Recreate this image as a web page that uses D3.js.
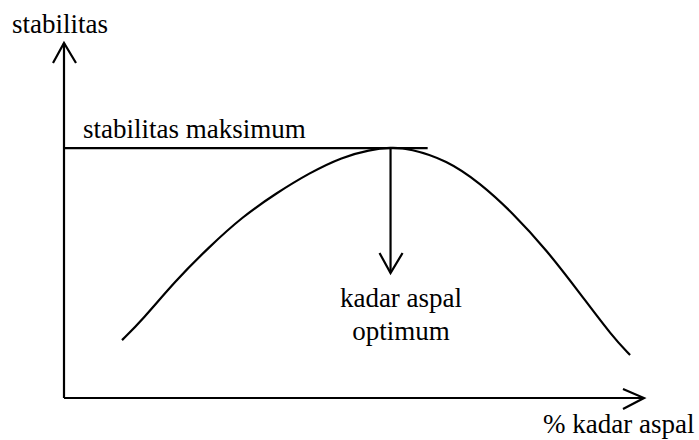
<!DOCTYPE html>
<html>
<head>
    <meta charset="utf-8">
    <title>Kurva stabilitas - kadar aspal</title>
    <style>
        body { margin: 0; background: #fff; }
        svg text {
            font-family: "Times New Roman", "Liberation Serif", Tinos, "DejaVu Serif", serif;
            font-size: 27px;
            fill: #000;
        }
        .line { fill: none; stroke: #000; stroke-width: 2.2; }
    </style>
</head>
<body>
    <div id="chart"></div>

    <script src="https://d3js.org/d3.v7.min.js"></script>
    <script>
        // titik kurva (x = % kadar aspal, y = stabilitas), skala 0..100
        var kadarAspal = [10.0, 13.5, 19.3, 25.0, 30.7, 36.6, 42.3, 48.0, 52.7, 56.3,
                          59.6, 66.0, 71.7, 77.4, 83.2, 88.9, 94.6, 97.6];
        var stabilitas = [16.3, 22.0, 33.2, 42.5, 51.0, 57.7, 63.4, 67.9, 69.9, 70.6,
                          70.3, 67.0, 60.6, 52.1, 41.7, 29.6, 17.2, 12.1];
        var puncak = { x: 56.3, y: 70.4 };     // kadar aspal optimum
        var ujungGarisMaks = 62.7;             // garis stabilitas maksimum berhenti di sini
        var ujungPanah = 35.2;                 // panah turun sampai sini
        var labelSumbuY = "stabilitas";
        var labelSumbuX = "% kadar aspal";
        var labelMaks = "stabilitas maksimum";
        var labelOptimum = ["kadar aspal", "optimum"];

        var width = 699, height = 440;

        var svg = d3.select("#chart").append("svg")
            .attr("width", width)
            .attr("height", height);

        var x = d3.scaleLinear().domain([0, 100]).range([64, 644]);
        var y = d3.scaleLinear().domain([0, 100]).range([398, 43]);

        // sumbu y + panah
        svg.append("line").attr("class", "line")
            .attr("x1", x(0)).attr("y1", y(0))
            .attr("x2", x(0)).attr("y2", y(100));
        svg.append("path").attr("class", "line")
            .attr("d", "M" + (x(0) - 11) + "," + (y(100) + 20) +
                       "L" + x(0) + "," + y(100) +
                       "L" + (x(0) + 12) + "," + (y(100) + 20));

        // sumbu x + panah
        svg.append("line").attr("class", "line")
            .attr("x1", x(0)).attr("y1", y(0))
            .attr("x2", x(100)).attr("y2", y(0));
        svg.append("path").attr("class", "line")
            .attr("d", "M" + (x(100) - 21) + "," + (y(0) - 9) +
                       "L" + x(100) + "," + y(0) +
                       "L" + (x(100) - 21) + "," + (y(0) + 11));

        // garis stabilitas maksimum
        svg.append("line").attr("class", "line")
            .attr("x1", x(0)).attr("y1", y(puncak.y))
            .attr("x2", x(ujungGarisMaks)).attr("y2", y(puncak.y));

        // kurva
        var titik = kadarAspal.map(function (d, i) { return [d, stabilitas[i]]; });
        var garis = d3.line()
            .x(function (d) { return x(d[0]); })
            .y(function (d) { return y(d[1]); })
            .curve(d3.curveBasis);
        svg.append("path").attr("class", "line")
            .datum(titik)
            .attr("d", garis);

        // panah ke bawah dari puncak
        svg.append("line").attr("class", "line")
            .attr("x1", x(puncak.x)).attr("y1", y(puncak.y))
            .attr("x2", x(puncak.x)).attr("y2", y(ujungPanah));
        svg.append("path").attr("class", "line")
            .attr("d", "M" + (x(puncak.x) - 11) + "," + (y(ujungPanah) - 20) +
                       "L" + x(puncak.x) + "," + y(ujungPanah) +
                       "L" + (x(puncak.x) + 12) + "," + (y(ujungPanah) - 20));

        // teks
        svg.append("text").attr("x", 12).attr("y", 33).text(labelSumbuY);
        svg.append("text").attr("x", 83).attr("y", 138).text(labelMaks);
        svg.append("text").attr("x", 543).attr("y", 433).text(labelSumbuX);
        svg.selectAll(".opt")
            .data(labelOptimum)
            .enter().append("text")
            .attr("class", "opt")
            .attr("x", 401)
            .attr("y", function (d, i) { return 307 + i * 33; })
            .attr("text-anchor", "middle")
            .text(function (d) { return d; });
    </script>
</body>
</html>
